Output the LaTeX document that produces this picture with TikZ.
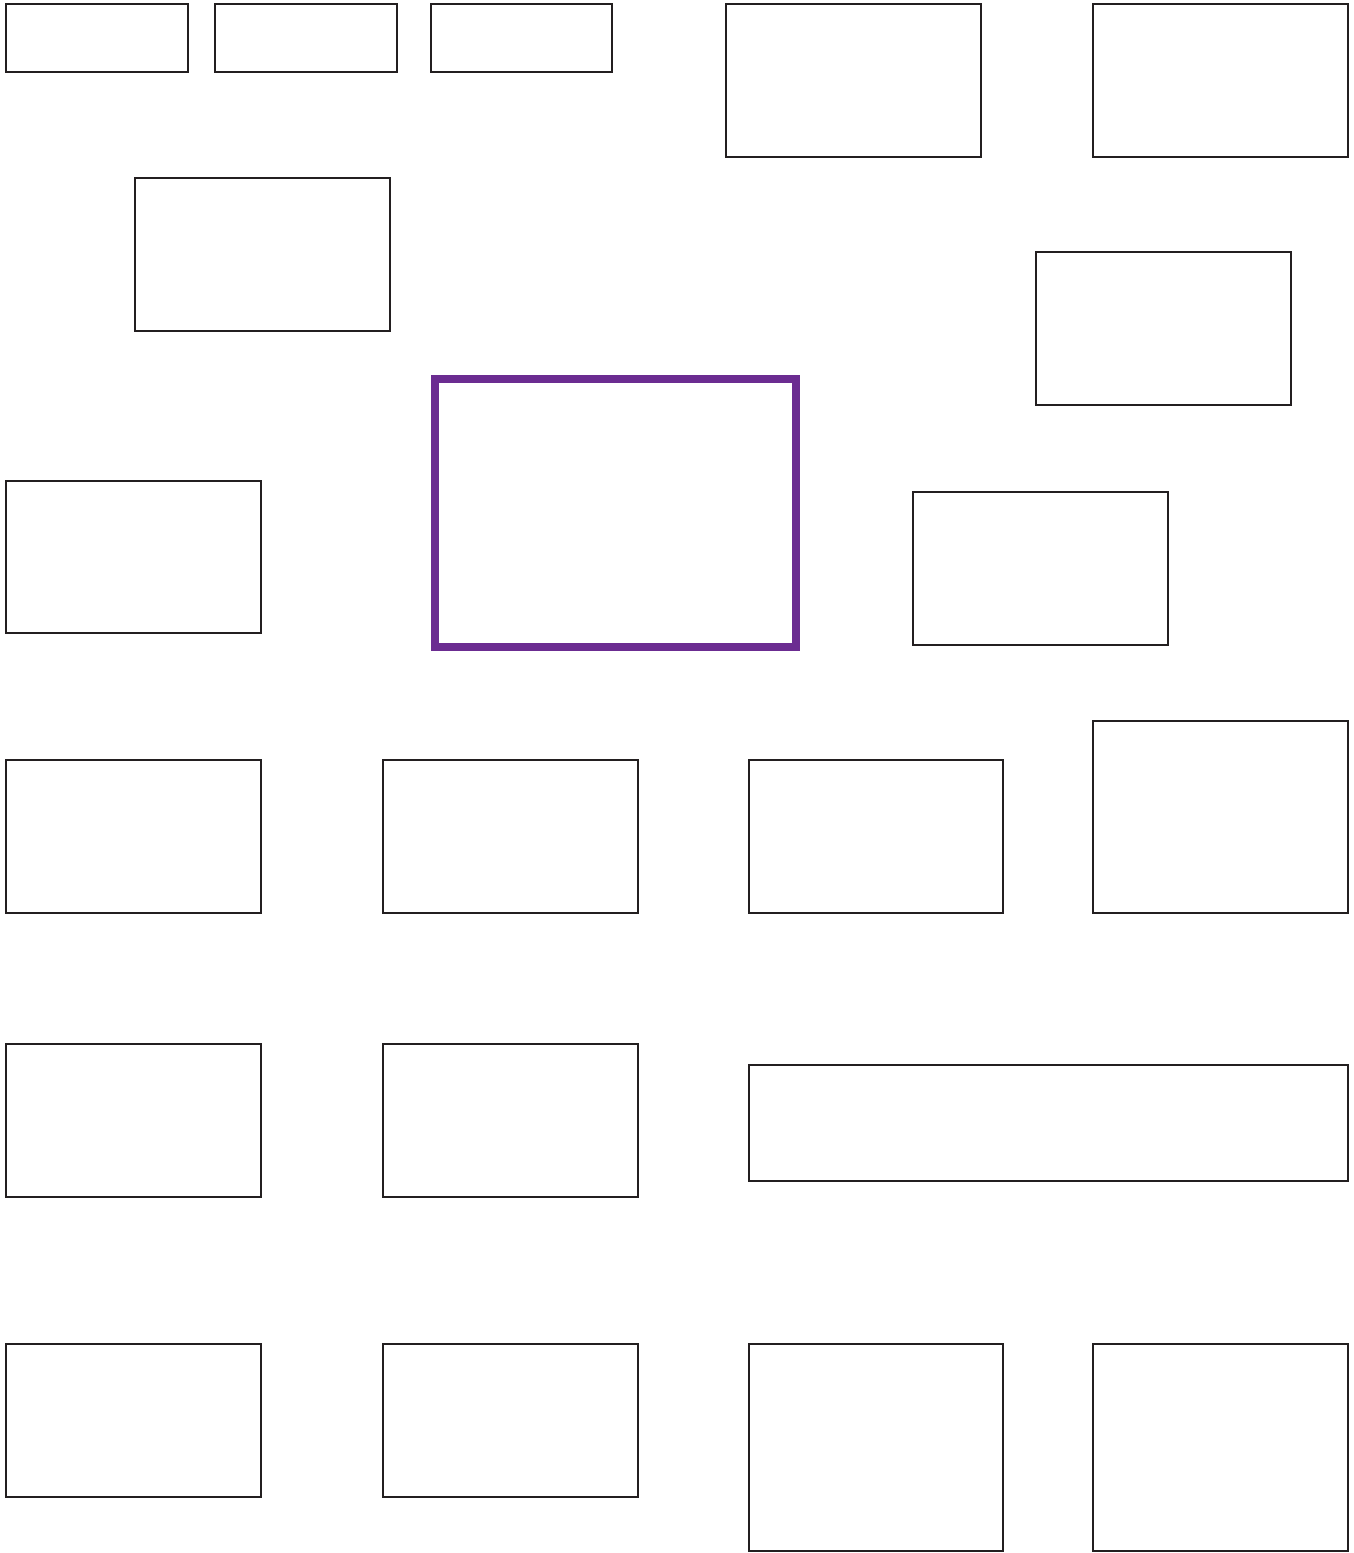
\documentclass[tikz,border=0pt]{standalone}
\usepackage{tikz}
\usetikzlibrary{positioning}
\usepackage{xcolor}
\definecolor{lndark}{HTML}{231F20}
\definecolor{lnpurple}{HTML}{6B2C91}

\begin{document}
\begin{tikzpicture}[x=1pt, y=-1pt,
    panel/.style={draw=lndark, line width=2.5pt, rectangle, inner sep=0pt,
          minimum width=255pt, minimum height=153pt},
    panelfocus/.style={draw=lnpurple, line width=8pt, rectangle, inner sep=0pt}]
    \useasboundingbox (0,0) rectangle (1354,1553);
    % top strip
    \node[panel, minimum width=182pt, minimum height=68pt] (tabA) at (97,38) {};
    \node[panel, minimum width=182pt, minimum height=68pt] (tabB) at (306,38) {};
    \node[panel, minimum width=181pt, minimum height=68pt] (tabC) at (521.5,38) {};
    \node[panel] (topmid) at (853.5,80.5) {};
    \node[panel] (topright) at (1220.5,80.5) {};
    % upper area
    \node[panel] (upleft) at (262.5,254.5) {};
    \node[panel] (upright) at (1163.5,328.5) {};
    \node[panelfocus, minimum width=361pt, minimum height=268pt] (focus) at (615.5,513) {};
    \node[panel, minimum height=152pt] (midleft) at (133.5,557) {};
    \node[panel] (midright) at (1040.5,568.5) {};
    % row one
    \node[panel] (rowAa) at (133.5,836.5) {};
    \node[panel] (rowAb) at (510.5,836.5) {};
    \node[panel, minimum width=254pt] (rowAc) at (876,836.5) {};
    \node[panel, minimum height=192pt] (rowAd) at (1220.5,817) {};
    % row two
    \node[panel] (rowBa) at (133.5,1120.5) {};
    \node[panel] (rowBb) at (510.5,1120.5) {};
    \node[panel, minimum width=599pt, minimum height=116pt] (rowBc) at (1048.5,1123) {};
    % row three
    \node[panel] (rowCa) at (133.5,1420.5) {};
    \node[panel] (rowCb) at (510.5,1420.5) {};
    \node[panel, minimum width=254pt, minimum height=207pt] (rowCc) at (876,1447.5) {};
    \node[panel, minimum height=207pt] (rowCd) at (1220.5,1447.5) {};
\end{tikzpicture}
\end{document}
